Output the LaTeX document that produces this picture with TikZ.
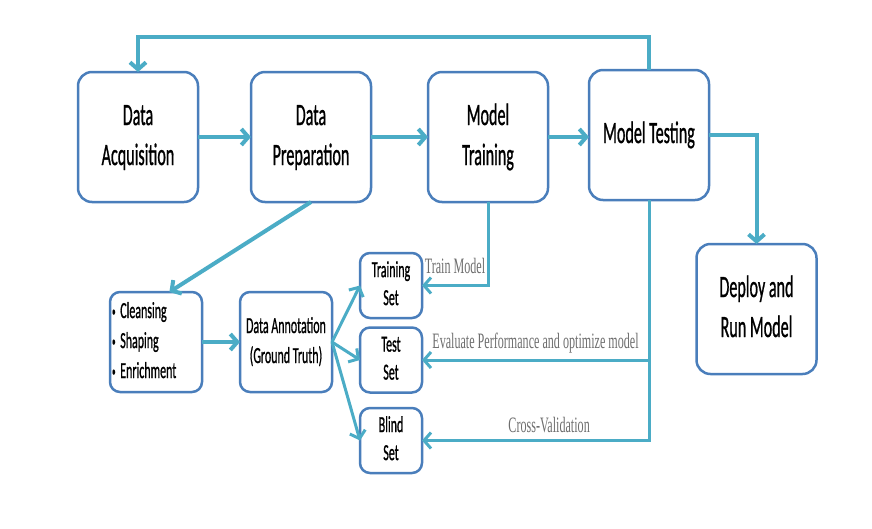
\documentclass[tikz,border=0pt]{standalone}
\usepackage{fontspec}
\usepackage{graphicx}
\usepackage{tikz}
\usetikzlibrary{arrows.meta, positioning, calc}
\newfontfamily\boxfont[FakeBold=1.2]{Carlito}
\newfontfamily\notefont{Liberation Serif}
\newcommand{\sq}[1]{\scalebox{0.52}[1]{\begin{tabular}{@{}c@{}}#1\end{tabular}}}
\newcommand{\sql}[1]{\scalebox{0.52}[1]{\begin{tabular}{@{}l@{}}#1\end{tabular}}}
\newcommand{\sqn}[1]{\scalebox{0.55}[1]{#1}}
\newcommand{\dotitem}{\raisebox{2pt}{\scalebox{0.6}{\textbullet}}\hspace{9pt}}
\tikzset{
  stage/.style={draw=boxblue,line width=2.5pt,fill=white,rounded corners=14pt,minimum width=120pt,minimum height=130pt,inner sep=0pt,outer sep=0pt,font=\boxfont\fontsize{31}{40}\selectfont},
  substage/.style={stage,rounded corners=10pt,minimum width=92pt,minimum height=100pt,font=\boxfont\fontsize{23}{30}\selectfont},
  dataset/.style={substage,minimum width=62pt,minimum height=65pt,font=\boxfont\fontsize{23}{28}\selectfont},
  flow/.style={draw=flowcyan,line width=4pt,-{Straight Barb[length=7pt,width=16pt]}},
  link/.style={flow,line width=3pt},
  note/.style={text=notegray,font=\notefont\fontsize{22}{26}\selectfont,inner sep=0pt},
}
\definecolor{box_blue}{HTML}{4A7EBB}
\definecolor{flow_cyan}{HTML}{4BACC6}
\definecolor{note_gray}{HTML}{6E6E6E}
\colorlet{boxblue}{box_blue}
\colorlet{flowcyan}{flow_cyan}
\colorlet{notegray}{note_gray}

\begin{document}
\begin{tikzpicture}[x=1pt,y=-1pt]
	    \useasboundingbox (0,0) rectangle (872,528);
	    \node[stage] (A) at (138,137) {\sq{Data\\Acquisition}};
	    \node[stage,right=53pt of A] (B) {\sq{Data\\Preparation}};
	    \node[stage,right=57pt of B] (C) {\sq{Model\\Training}};
	    \node[stage,right=41pt of C,yshift=2pt] (D) {\sq{Model Testing}};
	    \node[stage] (E) at (756.5,309) {\sq{Deploy and\\Run Model}};
	    \node[substage,text width=88pt,align=left] (F) at (156,342) {\sql{\dotitem Cleansing\\\dotitem Shaping\\\dotitem Enrichment}};
	    \node[substage,right=38pt of F] (G) {\sq{Data Annotation\\(Ground Truth)}};
	    \node[dataset] (H) at (391,285.5) {\sq{Training\\Set}};
	    \node[dataset] (I) at (391,360) {\sq{Test\\Set}};
	    \node[dataset] (J) at (391,440.5) {\sq{Blind\\Set}};
	    \coordinate (top) at (138,37);
	    \coordinate (branch) at (D.south |- I.east);
	    % main line
	    \draw[flow] (A) -- (B);
	    \draw[flow] (B) -- (C);
	    \draw[flow] (C.east) -- (C.east -| D.west);
	    \draw[flow] (D.east) -| (E.north);
	    \draw[flow] (D.north) |- (top) -- (A.north);
	    % preparation and sets
	    \draw[flow] (B.south) -- (F.75);
	    \draw[flow] (F) -- (G);
	    \draw[link] (G.east) -- (H.west);
	    \draw[link] (G.east) -- (I.west);
	    \draw[link] (G.east) -- (J.west);
	    \draw[link] (C.south) |- node[note,above=10pt,pos=0.75] {\sqn{Train Model}} (H.east);
	    \draw[link] (D.south) |- node[note,above=6pt,pos=0.72] {\sqn{Cross-Validation}} (J.east);
	    \draw[link] (branch) -- node[note,above=5pt,midway] {\sqn{Evaluate Performance and optimize model}} (I.east);
	\end{tikzpicture}
\end{document}
